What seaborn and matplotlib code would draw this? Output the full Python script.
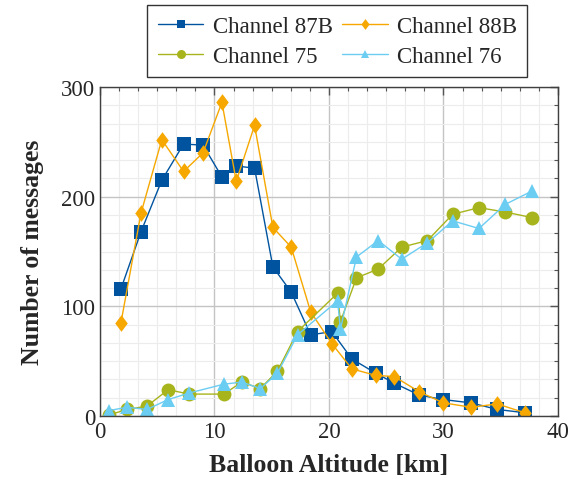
import numpy as np
import pandas as pd
import matplotlib
matplotlib.use("Agg")
import matplotlib.pyplot as plt
from matplotlib.ticker import MultipleLocator
import seaborn as sns

# altitude samples (km) for the two 8xB channels and the two 7x channels
alt_8x = [1.83, 3.58, 5.4, 7.3, 9.0, 10.65, 11.9, 13.5, 15.1, 16.7,
          18.4, 20.25, 22.0, 24.1, 25.7, 27.9, 30.0, 32.4, 34.7, 37.1]
alt_7x = [0.8, 2.35, 4.1, 5.95, 7.8, 10.8, 12.4, 14.0, 15.5, 17.25,
          20.75, 21.0, 22.4, 24.3, 26.35, 28.6, 30.8, 33.1, 35.4, 37.7]

ch87b = [116, 168, 215, 248, 247, 218, 228, 226, 136, 113,
         74, 77, 52, 39, 30, 19, 15, 12, 6, 3]
ch88b = [85, 185, 252, 223, 240, 286, 214, 265, 172, 154,
         95, 66, 43, 37, 36, 22, 12, 8, 11, 3]
ch75 = [1, 6, 9, 24, 20, 20, 31, 25, 41, 77,
        112, 86, 126, 134, 154, 160, 184, 190, 186, 181]
ch76 = [5, 8, 6, 15, 21, 29, 31, 25, 39, 74,
        105, 79, 145, 160, 143, 158, 178, 171, 193, 205]

names = ["Channel 87B", "Channel 88B", "Channel 75", "Channel 76"]
colors = ["#00549F", "#F6A800", "#A8B41C", "#6BCDF2"]
diamond = [(0, 1), (0.75, 0), (0, -1), (-0.75, 0), (0, 1)]
markers = ["s", diamond, "o", "^"]
sizes = [9.5, 12, 10, 9.5]

frames = []
for name, xs, ys in [(names[0], alt_8x, ch87b), (names[1], alt_8x, ch88b),
                     (names[2], alt_7x, ch75), (names[3], alt_7x, ch76)]:
    frames.append(pd.DataFrame({"alt": xs, "count": ys, "channel": name}))
df = pd.concat(frames, ignore_index=True)

sns.set_style("white")
plt.rcParams["font.family"] = ["Liberation Serif", "DejaVu Serif"]

fig, ax = plt.subplots(figsize=(5.79, 4.81), dpi=100)
fig.subplots_adjust(left=0.1727, right=0.9637, top=0.817, bottom=0.133)

for name, c, m, s in zip(names, colors, markers, sizes):
    sub = df[df["channel"] == name]
    sns.lineplot(data=sub, x="alt", y="count", ax=ax, color=c, marker=m,
                 markersize=s, markeredgewidth=0, linewidth=1.0,
                 label=name, sort=False, estimator=None)

ax.set_xlim(0, 40)
ax.set_ylim(0, 300)
ax.xaxis.set_major_locator(MultipleLocator(10))
ax.xaxis.set_minor_locator(MultipleLocator(10 / 6))
ax.yaxis.set_major_locator(MultipleLocator(100))
ax.yaxis.set_minor_locator(MultipleLocator(100 / 6))

ax.grid(which="major", color="#c4c4c4", linewidth=1.0)
ax.grid(which="minor", color="#ececec", linewidth=0.8)
ax.set_axisbelow(True)

ax.tick_params(which="both", direction="in", top=True, right=True,
               color="#555555", labelsize=16.5)
ax.tick_params(which="major", length=6, width=1)
ax.tick_params(which="minor", length=3, width=0.8)
for sp in ax.spines.values():
    sp.set_color("#404040")
    sp.set_linewidth(1.0)

ax.set_xlabel("Balloon Altitude [km]", fontsize=18.5, fontweight="bold", labelpad=8)
ax.set_ylabel("Number of messages", fontsize=18.5, fontweight="bold", labelpad=12)

# legend filled row by row: 87B 88B / 75 76
handles, labels = ax.get_legend_handles_labels()
order = [0, 2, 1, 3]
leg = ax.legend([handles[i] for i in order], [labels[i] for i in order],
                loc="lower center", bbox_to_anchor=(0.518, 1.03), ncol=2,
                fontsize=16.5, frameon=True, fancybox=False, edgecolor="black",
                handlelength=2.0, columnspacing=0.4, handletextpad=0.4,
                borderpad=0.45, labelspacing=0.4, borderaxespad=0,
                markerscale=0.65)
leg.get_frame().set_linewidth(1.0)

fig.savefig("out.png", dpi=100)
